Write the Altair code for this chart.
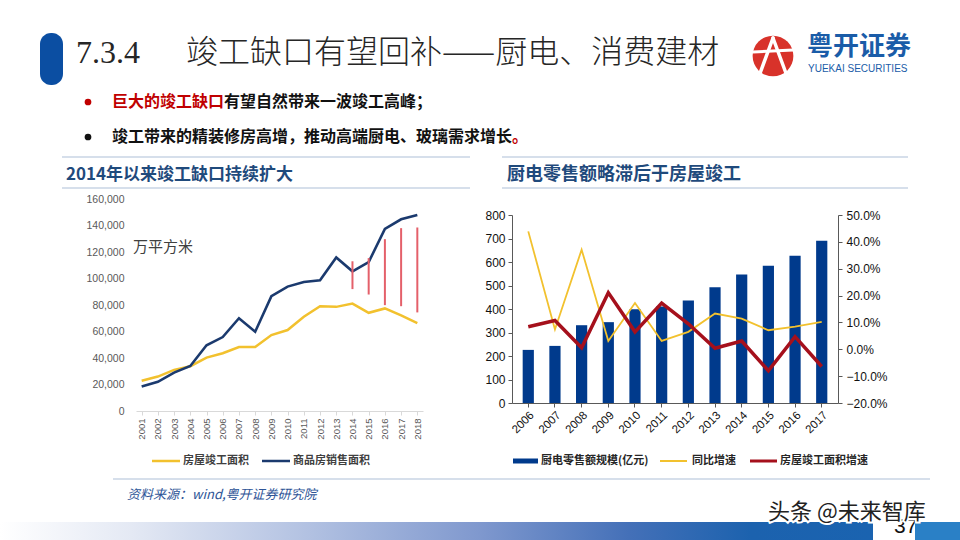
import altair as alt
import pandas as pd

CJK = "Noto Sans CJK SC"
LAT = "Liberation Sans"

# ---------------- data ----------------
years_l = [str(y) for y in range(2001, 2019)]
completed = [22800, 26000, 31000, 33800, 40300, 43600, 48300, 48300, 57300, 61100,
             71100, 79100, 78600, 81100, 74100, 77400, 72100, 66300]
sales = [18500, 22000, 29000, 34000, 49600, 55800, 70000, 59800, 86600, 93900,
         97400, 98600, 115900, 105400, 112400, 137500, 144700, 148000]
gap_years = ["2014", "2015", "2016", "2017", "2018"]
gap_top = [113000, 115400, 129700, 138000, 138500]
gap_bottom = [92000, 87900, 79900, 79100, 74400]

years_r = [str(y) for y in range(2006, 2018)]
retail = [226, 243, 331, 344, 399, 411, 436, 493, 547, 584, 627, 690]
yoy = [43.9, 7.4, 37.1, 3.1, 17.2, 3.1, 6.5, 13.3, 11.4, 7.1, 8.4, 10.2]
comp_growth = [8.4, 10.7, 0.6, 21.1, 6.5, 17.2, 9.5, 0.4, 3.1, -8.0, 4.7, -6.4]

left_df = pd.DataFrame({"year": years_l, "completed": completed, "sales": sales})
gap_df = pd.DataFrame({"year": gap_years, "top": gap_top, "bottom": gap_bottom})
right_df = pd.DataFrame({"year": years_r, "retail": retail, "yoy": yoy, "comp": comp_growth})

one = pd.DataFrame({"k": [0]})


def txt(s, x, y, size, color="#000000", weight="normal", font=CJK, style="normal",
        align="left", baseline="middle", **kw):
    return alt.Chart(one).mark_text(text=s, fontSize=size, color=color, fontWeight=weight,
                                    font=font, fontStyle=style, align=align,
                                    baseline=baseline, **kw).encode(
        x=alt.value(x), y=alt.value(y))


def hline(x1, x2, y, color, w):
    return alt.Chart(one).mark_rule(color=color, strokeWidth=w).encode(
        x=alt.value(x1), x2=alt.value(x2), y=alt.value(y))


def seg(x1, y1, x2, y2, color, w):
    return alt.Chart(one).mark_rule(color=color, strokeWidth=w, strokeCap="round").encode(
        x=alt.value(x1), x2=alt.value(x2), y=alt.value(y1), y2=alt.value(y2))


def dot(x, y, size, color):
    return alt.Chart(one).mark_circle(size=size, color=color, opacity=1).encode(
        x=alt.value(x), y=alt.value(y))


LINE_C = "#C9D5E4"
SUB_C = "#1F4A7C"

# ---------------- decorations ----------------
decor = []
decor.append(alt.Chart(one).mark_rect(cornerRadius=11, color="#0B4EA2").encode(
    x=alt.value(40), x2=alt.value(63), y=alt.value(33), y2=alt.value(85)))
decor.append(txt("7.3.4", 76, 53, 32, color="#262626", font="Liberation Serif"))
decor.append(txt("竣工缺口有望回补——厨电、消费建材", 186, 53, 32, color="#262626", weight=300))

# logo
decor.append(dot(773, 56, 1660, "#D8322A"))
decor.append(seg(773, 38, 759, 76, "white", 3.5))
decor.append(seg(773, 38, 787, 76, "white", 3.5))
decor.append(seg(753, 52, 793, 50, "white", 3))
decor.append(txt("粤开证券", 807, 47, 26, color="#1A5CA8", weight="bold"))
decor.append(txt("YUEKAI SECURITIES", 808, 69, 10, color="#1A5CA8", font="Liberation Sans Narrow, Liberation Sans"))

# bullets
decor.append(dot(88, 102, 45, "#C00000"))
decor.append(txt("巨大的竣工缺口", 112, 102, 16, color="#C00000", weight="bold"))
decor.append(txt("有望自然带来一波竣工高峰；", 224, 102, 16, color="#111111", weight="bold"))
decor.append(dot(88, 137, 45, "#111111"))
decor.append(txt("竣工带来的精装修房高增，推动高端厨电、玻璃需求增长", 112, 137, 16, color="#111111", weight="bold"))
decor.append(txt("。", 512, 137, 16, color="#C00000", weight="bold"))

# section lines and subtitles
for y in (157, 188):
    decor.append(hline(62, 470, y, LINE_C, 1.5))
    decor.append(hline(502, 908, y, LINE_C, 1.5))
decor.append(txt("2014年以来竣工缺口持续扩大", 66, 175, 17, color=SUB_C, weight="bold"))
decor.append(txt("厨电零售额略滞后于房屋竣工", 507, 175, 18, color=SUB_C, weight="bold"))

# left chart annotation + legend
decor.append(txt("万平方米", 133, 247, 15, color="#404040"))
decor.append(hline(152, 180, 461, "#F2C12E", 2.5))
decor.append(txt("房屋竣工面积", 183, 461, 11, color="#404040", weight="bold"))
decor.append(hline(262, 290, 461, "#1B3A6E", 2.5))
decor.append(txt("商品房销售面积", 293, 461, 11, color="#404040", weight="bold"))

# right legend
decor.append(hline(513, 538, 461, "#003A8C", 5))
decor.append(txt("厨电零售额规模(亿元)", 541, 461, 11, color="#262626", weight="bold"))
decor.append(hline(660, 687, 461, "#F2C12E", 2))
decor.append(txt("同比增速", 692, 461, 11, color="#262626", weight="bold"))
decor.append(hline(750, 777, 461, "#A5101C", 3))
decor.append(txt("房屋竣工面积增速", 780, 461, 11, color="#262626", weight="bold"))

# footer
decor.append(hline(113, 930, 479, LINE_C, 1.5))
decor.append(txt("资料来源：wind,粤开证券研究院", 127, 495, 13, color="#2E5597", style="italic"))
grad = alt.Gradient(gradient="linear", x1=0, x2=1, y1=0, y2=0, stops=[
    alt.GradientStop(offset=0, color="#FFFFFF"),
    alt.GradientStop(offset=0.15, color="#E4E9F4"),
    alt.GradientStop(offset=0.35, color="#B3C2E2"),
    alt.GradientStop(offset=0.55, color="#7F98CE"),
    alt.GradientStop(offset=0.72, color="#4470B8"),
    alt.GradientStop(offset=0.86, color="#1C62AE"),
    alt.GradientStop(offset=1, color="#1A63B0"),
])
decor.append(alt.Chart(one).mark_rect(color=grad).encode(
    x=alt.value(0), x2=alt.value(873), y=alt.value(522), y2=alt.value(540)))
decor.append(alt.Chart(one).mark_rect(color="#2A80C6").encode(
    x=alt.value(915), x2=alt.value(960), y=alt.value(522), y2=alt.value(540)))
decor.append(txt("37", 894, 527, 21, color="#111111", font=LAT))

# ---------------- left chart ----------------
xl_scale = alt.Scale(type="point", domain=years_l, range=[136, 423], padding=0.35)
yl_scale = alt.Scale(domain=[0, 160000], range=[411, 199])
xl_axis = alt.Axis(orient="bottom", offset=-129, title=None, labelAngle=270, labelFontSize=9.5,
                   labelColor="#595959", labelFont=LAT, domainColor="#D9D9D9", tickColor="#D9D9D9",
                   tickSize=4, labelPadding=3, grid=False)
yl_axis = alt.Axis(orient="left", offset=-124, title=None, values=list(range(0, 160001, 20000)),
                   format=",.0f", domain=False, ticks=False, tickSize=0, grid=False, labelPadding=0,
                   labelFontSize=10.5, labelColor="#595959", labelFont=LAT)

comp_line = alt.Chart(left_df).mark_line(color="#F2C12E", strokeWidth=2.5).encode(
    x=alt.X("year:O", scale=xl_scale, axis=None),
    y=alt.Y("completed:Q", scale=yl_scale, axis=None))
sales_line = alt.Chart(left_df).mark_line(color="#1B3A6E", strokeWidth=2.6).encode(
    x=alt.X("year:O", scale=xl_scale, axis=xl_axis),
    y=alt.Y("sales:Q", scale=yl_scale, axis=yl_axis))
gap_rules = alt.Chart(gap_df).mark_rule(color="#E4606A", strokeWidth=2).encode(
    x=alt.X("year:O", scale=xl_scale, axis=None),
    y=alt.Y("top:Q", scale=yl_scale, axis=None),
    y2="bottom:Q")

# ---------------- right chart ----------------
xr_scale = alt.Scale(type="band", domain=years_r, range=[512, 838], paddingInner=0.58, paddingOuter=0.4)
y1_scale = alt.Scale(domain=[0, 800], range=[403, 215])
y2_scale = alt.Scale(domain=[-20, 50], range=[403, 215])
xr_axis = alt.Axis(orient="bottom", offset=-137, title=None, labelAngle=-45, labelFontSize=11.5,
                   labelColor="#111111", labelFont=LAT, domainColor="#595959", tickColor="#595959",
                   tickSize=4, grid=False)
y1_axis = alt.Axis(orient="left", offset=-512, title=None, values=list(range(0, 801, 100)),
                   grid=False, domainColor="#595959", tickColor="#595959", tickSize=4,
                   labelFontSize=12, labelColor="#111111", labelFont=LAT, labelPadding=3)
y2_axis = alt.Axis(orient="right", offset=-122, title=None, values=list(range(-20, 51, 10)),
                   labelExpr="format(datum.value, '.1f') + '%'", grid=False,
                   domainColor="#595959", tickColor="#595959", tickSize=4,
                   labelFontSize=12, labelColor="#111111", labelFont=LAT, labelPadding=4)

bars = alt.Chart(right_df).mark_bar(color="#003A8C").encode(
    x=alt.X("year:O", scale=xr_scale, axis=xr_axis),
    y=alt.Y("retail:Q", scale=y1_scale, axis=y1_axis))
yoy_line = alt.Chart(right_df).mark_line(color="#F2C12E", strokeWidth=1.8).encode(
    x=alt.X("year:O", scale=xr_scale, axis=None, bandPosition=0.5),
    y=alt.Y("yoy:Q", scale=y2_scale, axis=y2_axis))
red_line = alt.Chart(right_df).mark_line(color="#A5101C", strokeWidth=3.5).encode(
    x=alt.X("year:O", scale=xr_scale, axis=None, bandPosition=0.5),
    y=alt.Y("comp:Q", scale=y2_scale, axis=None))

# watermark on top
wm = [
    txt("头条 @未来智库", 768, 512, 22, color="white", stroke="white", strokeWidth=4),
    txt("头条 @未来智库", 768, 512, 22, color="#222222"),
]

chart = alt.layer(
    *decor, comp_line, sales_line, gap_rules, bars, yoy_line, red_line, *wm
).resolve_scale(x="independent", y="independent").properties(
    width=960, height=540, autosize=alt.AutoSizeParams(type="none"), padding=0,
    background="white"
).configure_view(stroke=None)

chart.save("out.html", embed_options={"renderer": "svg", "actions": False})
